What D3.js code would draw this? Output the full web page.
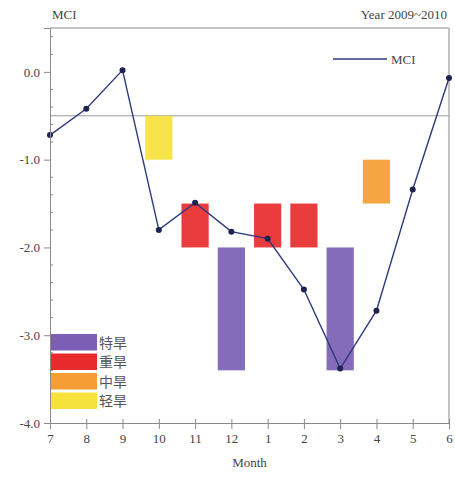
<!DOCTYPE html>
<html><head><meta charset="utf-8">
<script src="https://cdn.jsdelivr.net/npm/d3@7"></script>
<style>body{margin:0;background:#fff}</style>
</head><body><div id="chart"></div>
<script>
const months = ["7","8","9","10","11","12","1","2","3","4","5","6"];
const mci = [-0.72,-0.42,0.02,-1.8,-1.49,-1.82,-1.9,-2.48,-3.38,-2.72,-1.34,-0.07];
const barMonths = ["10","11","12","1","2","3","4"];
const barTop = [-0.5,-1.5,-2.0,-1.5,-1.5,-2.0,-1.0];
const barBottom = [-1.0,-2.0,-3.4,-2.0,-2.0,-3.4,-1.5];
const barLevel = ["轻旱","重旱","特旱","重旱","重旱","特旱","中旱"];
const levels = ["特旱","重旱","中旱","轻旱"];
const levelColors = ["#7a5fb4","#e82a2c","#f49e33","#f6e23c"];
const yTicks = [0,-1,-2,-3,-4];
const refLine = -0.5;

const W=455,H=477;
const m={l:50,r:6,t:28,b:54};
const svg=d3.select("#chart").append("svg").attr("width",W).attr("height",H);
const iw=W-m.l-m.r, ih=H-m.t-m.b;
const g=svg.append("g").attr("transform",`translate(${m.l},${m.t})`);
const x=d3.scalePoint().domain(months).range([0,iw]);
const y=d3.scaleLinear().domain([-4,0.5]).range([ih,0]);
const col=d3.scaleOrdinal().domain(levels).range(levelColors);
const step=x.step(), bw=step*0.75;
const axisCol="#8a8a8a", textCol="#444";
const serif="'Liberation Serif','DejaVu Serif',serif";

// frame top & right
g.append("line").attr("x1",0).attr("x2",iw).attr("y1",0).attr("y2",0).attr("stroke",axisCol);
g.append("line").attr("x1",iw).attr("x2",iw).attr("y1",0).attr("y2",ih).attr("stroke",axisCol);

// reference line
g.append("line").attr("x1",0).attr("x2",iw).attr("y1",y(refLine)).attr("y2",y(refLine)).attr("stroke","#999").attr("stroke-width",1);

// bars
g.selectAll(".bar").data(barMonths).enter().append("rect")
  .attr("x",(d)=>x(d)-bw/2).attr("width",bw)
  .attr("y",(d,i)=>y(barTop[i])).attr("height",(d,i)=>y(barBottom[i])-y(barTop[i]))
  .attr("fill",(d,i)=>col(barLevel[i])).attr("opacity",0.92);

// line
const line=d3.line().x((d,i)=>x(months[i])).y(d=>y(d));
g.append("path").datum(mci).attr("d",line).attr("fill","none").attr("stroke","#2d3a7c").attr("stroke-width",1.4);
g.selectAll(".pt").data(mci).enter().append("circle")
  .attr("cx",(d,i)=>x(months[i])).attr("cy",d=>y(d)).attr("r",3).attr("fill","#1e2350");

// y axis
const fmt=d=>d.toFixed(1);
const ya=g.append("g").call(d3.axisLeft(y).tickValues(yTicks).tickFormat(fmt).tickSize(6).tickPadding(4));
ya.select(".domain").attr("stroke",axisCol);
ya.selectAll(".tick line").attr("stroke",axisCol);
ya.selectAll("text").attr("font-family",serif).attr("font-size",13).attr("fill",textCol);
const minor=d3.range(-40,6,2).map(v=>v/10).filter(v=>Math.abs(v%1)>0.01);
g.selectAll(".ym").data(minor).enter().append("line")
  .attr("x1",0).attr("x2",3).attr("y1",d=>y(d)).attr("y2",d=>y(d)).attr("stroke",axisCol);

// x axis
const xa=g.append("g").attr("transform",`translate(0,${ih})`).call(d3.axisBottom(x).tickSize(6).tickPadding(5));
xa.select(".domain").attr("stroke",axisCol);
xa.selectAll(".tick line").attr("stroke",axisCol).attr("y1",-4);
xa.selectAll("text").attr("font-family",serif).attr("font-size",13).attr("fill",textCol);

svg.append("text").attr("x",m.l+iw/2).attr("y",467).attr("text-anchor","middle")
  .attr("font-family",serif).attr("font-size",13).attr("fill",textCol).text("Month");
svg.append("text").attr("x",52).attr("y",19)
  .attr("font-family",serif).attr("font-size",13).attr("fill",textCol).text("MCI");
svg.append("text").attr("x",447).attr("y",19).attr("text-anchor","end")
  .attr("font-family",serif).attr("font-size",13).attr("fill",textCol).text("Year 2009~2010");

// line legend
svg.append("line").attr("x1",333).attr("x2",387).attr("y1",59).attr("y2",59).attr("stroke","#2d3a7c").attr("stroke-width",1.4);
svg.append("text").attr("x",391).attr("y",63.5).attr("font-family",serif).attr("font-size",13).attr("fill",textCol).text("MCI");

// level legend
const lg=svg.append("g");
levels.forEach((l,i)=>{
  const yy=334+i*19.5;
  lg.append("rect").attr("x",51).attr("y",yy).attr("width",46).attr("height",16.5).attr("fill",col(l));
  lg.append("text").attr("x",99).attr("y",yy+13.5).attr("font-family","'Noto Sans CJK SC',sans-serif")
    .attr("font-size",14).attr("fill","#555").text(l);
});
</script></body></html>
